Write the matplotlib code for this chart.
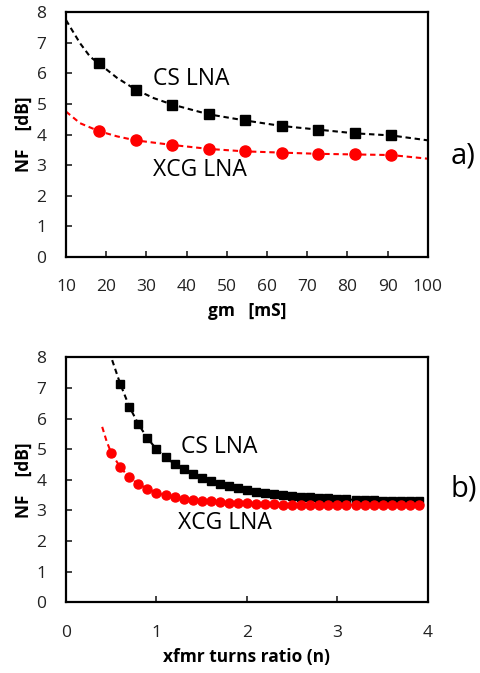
import matplotlib
matplotlib.use("Agg")
import matplotlib.pyplot as plt

plt.rcParams['font.family'] = ['Open Sans', 'DejaVu Sans']

# ---- panel a): NF versus transconductance ----
gm_pts = [18.2, 27.3, 36.4, 45.5, 54.5, 63.6, 72.7, 81.8, 90.9]
cs_nf_a = [6.32, 5.47, 4.98, 4.66, 4.46, 4.28, 4.16, 4.04, 3.97]
xcg_nf_a = [4.11, 3.81, 3.66, 3.53, 3.45, 3.41, 3.37, 3.35, 3.33]

gm_fit = [10, 11.0, 13.5, 16.0, 18.2, 22.7, 27.3, 31.8, 36.4, 45.5, 54.5, 63.6, 72.7, 81.8, 90.9, 100]
cs_fit_a = [7.74, 7.52, 6.98, 6.54, 6.32, 5.85, 5.47, 5.19, 4.98, 4.66, 4.46, 4.28, 4.16, 4.04, 3.97, 3.81]
gm_fit_x = [10, 13.5, 18.2, 22.7, 27.3, 36.4, 45.5, 54.5, 63.6, 72.7, 81.8, 90.9, 100]
xcg_fit_a = [4.75, 4.37, 4.11, 3.94, 3.81, 3.66, 3.53, 3.45, 3.41, 3.37, 3.35, 3.33, 3.21]

# ---- panel b): NF versus transformer turns ratio ----
n_cs = [0.6, 0.7, 0.8, 0.9, 1.0, 1.1, 1.2, 1.3, 1.4, 1.5, 1.6, 1.7, 1.8, 1.9,
        2.0, 2.1, 2.2, 2.3, 2.4, 2.5, 2.6, 2.7, 2.8, 2.9, 3.0, 3.1, 3.2, 3.3,
        3.4, 3.5, 3.6, 3.7, 3.8, 3.9]
cs_nf_b = [7.13, 6.39, 5.82, 5.36, 5.00, 4.73, 4.52, 4.34, 4.19, 4.06, 3.97, 3.86,
           3.80, 3.72, 3.67, 3.61, 3.58, 3.55, 3.52, 3.48, 3.45, 3.43, 3.42, 3.40,
           3.37, 3.36, 3.35, 3.34, 3.33, 3.32, 3.31, 3.31, 3.30, 3.30]
n_xcg = [0.5, 0.6, 0.7, 0.8, 0.9, 1.0, 1.1, 1.2, 1.3, 1.4, 1.5, 1.6, 1.7, 1.8,
         1.9, 2.0, 2.1, 2.2, 2.3, 2.4, 2.5, 2.6, 2.7, 2.8, 2.9, 3.0, 3.1, 3.2,
         3.3, 3.4, 3.5, 3.6, 3.7, 3.8, 3.9]
xcg_nf_b = [4.88, 4.41, 4.08, 3.86, 3.71, 3.58, 3.49, 3.43, 3.38, 3.34, 3.32, 3.30,
            3.28, 3.26, 3.24, 3.23, 3.22, 3.21, 3.20, 3.19, 3.19, 3.18, 3.18, 3.18,
            3.18, 3.18, 3.18, 3.18, 3.18, 3.18, 3.18, 3.18, 3.18, 3.18, 3.19]

n_cs_fit = [0.51] + n_cs
cs_fit_b = [7.91] + cs_nf_b
n_xcg_fit = [0.40, 0.45] + n_xcg
xcg_fit_b = [5.73, 5.25] + xcg_nf_b

RED = '#ff0000'
dash = (0, (2.6, 1.8))

fig = plt.figure(figsize=(4.8, 6.73), dpi=100)
ax1 = fig.add_axes([0.1375, 0.6181, 0.754, 0.364])
ax2 = fig.add_axes([0.1375, 0.1050, 0.754, 0.364])

# panel a
ax1.plot(gm_fit, cs_fit_a, color='black', lw=1.5, ls=dash, zorder=2)
ax1.plot(gm_fit_x, xcg_fit_a, color=RED, lw=1.5, ls=dash, zorder=2)
ax1.plot(gm_pts, cs_nf_a, ls='none', marker='s', ms=7.5, color='black', zorder=3)
ax1.plot(gm_pts, xcg_nf_a, ls='none', marker='o', ms=8, color=RED, zorder=3)
ax1.set_xlim(10, 100)
ax1.set_ylim(0, 8)
ax1.set_xticks(range(10, 101, 10))
ax1.set_yticks(range(0, 9))
ax1.set_xlabel('gm   [mS]', fontsize=12.5, fontweight='bold', labelpad=5)
ax1.set_ylabel('NF    [dB]', fontsize=12.5, fontweight='bold', labelpad=3)
ax1.text(31.6, 5.81, 'CS LNA', fontsize=16.5, va='center', ha='left')
ax1.text(31.6, 2.84, 'XCG LNA', fontsize=16.5, va='center', ha='left')
fig.text(0.938, 1 - 156 / 673, 'a)', fontsize=21, va='center', ha='left')

# panel b
ax2.plot(n_cs_fit, cs_fit_b, color='black', lw=1.5, ls=dash, zorder=2)
ax2.plot(n_xcg_fit, xcg_fit_b, color=RED, lw=1.5, ls=dash, zorder=2)
ax2.plot(n_cs, cs_nf_b, ls='none', marker='s', ms=6, color='black', zorder=3)
ax2.plot(n_xcg, xcg_nf_b, ls='none', marker='o', ms=6.5, color=RED, zorder=4)
ax2.set_xlim(0, 4)
ax2.set_ylim(0, 8)
ax2.set_xticks(range(0, 5))
ax2.set_yticks(range(0, 9))
ax2.set_xlabel('xfmr turns ratio (n)', fontsize=12.5, fontweight='bold', labelpad=5)
ax2.set_ylabel('NF    [dB]', fontsize=12.5, fontweight='bold', labelpad=3)
ax2.text(1.27, 5.06, 'CS LNA', fontsize=16.5, va='center', ha='left')
ax2.text(1.24, 2.60, 'XCG LNA', fontsize=16.5, va='center', ha='left')
fig.text(0.938, 1 - 489 / 673, 'b)', fontsize=21, va='center', ha='left')

for ax in (ax1, ax2):
    for s in ax.spines.values():
        s.set_linewidth(1.6)
    ax.tick_params(direction='in', length=4, width=1.2, labelsize=12.5,
                   colors='#222222', labelcolor='#222222')
    ax.tick_params(axis='x', pad=16)
    ax.tick_params(axis='y', pad=14)

fig.savefig('out.png', dpi=100)
